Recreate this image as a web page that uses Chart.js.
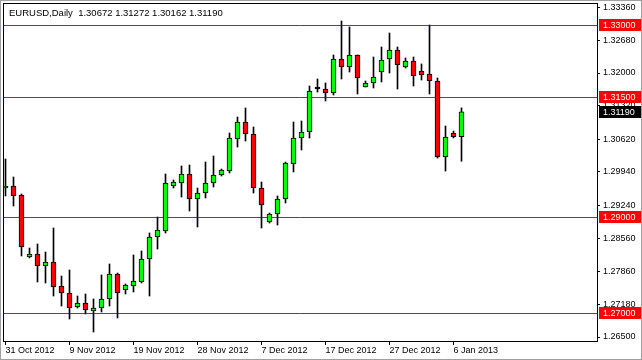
<!DOCTYPE html>
<html>
<head>
<meta charset="utf-8">
<script src="https://cdn.jsdelivr.net/npm/chart.js@4.4.1/dist/chart.umd.min.js"></script>
<style>
  html, body { margin: 0; padding: 0; background: #fff; }
  #wrap { width: 642px; height: 360px; }
</style>
</head>
<body>
<div id="wrap"><canvas id="myChart" width="642" height="360"></canvas></div>
<script>
// EURUSD daily candles, 31 Oct 2012 - 7 Jan 2013
var dates = ["31 Oct 2012","1 Nov 2012","2 Nov 2012","4 Nov 2012","5 Nov 2012","6 Nov 2012","7 Nov 2012","8 Nov 2012","9 Nov 2012",
  "11 Nov 2012","12 Nov 2012","13 Nov 2012","14 Nov 2012","15 Nov 2012","16 Nov 2012","18 Nov 2012","19 Nov 2012","20 Nov 2012",
  "21 Nov 2012","22 Nov 2012","23 Nov 2012","25 Nov 2012","26 Nov 2012","27 Nov 2012","28 Nov 2012","29 Nov 2012","30 Nov 2012",
  "2 Dec 2012","3 Dec 2012","4 Dec 2012","5 Dec 2012","6 Dec 2012","7 Dec 2012","9 Dec 2012","10 Dec 2012","11 Dec 2012",
  "12 Dec 2012","13 Dec 2012","14 Dec 2012","16 Dec 2012","17 Dec 2012","18 Dec 2012","19 Dec 2012","20 Dec 2012","21 Dec 2012",
  "23 Dec 2012","24 Dec 2012","26 Dec 2012","27 Dec 2012","28 Dec 2012","30 Dec 2012","31 Dec 2012","1 Jan 2013","2 Jan 2013",
  "3 Jan 2013","4 Jan 2013","6 Jan 2013","7 Jan 2013"];

var opens  = [1.29604,1.29646,1.29458,1.28167,1.28229,1.27979,1.28063,1.27563,1.27417,1.27125,1.27208,1.27042,1.27104,1.27292,1.27813,
  1.27479,1.27563,1.27646,1.28125,1.28583,1.28708,1.29646,1.29708,1.29896,1.29375,1.29500,1.29708,1.29875,1.29958,1.30625,1.30979,
  1.30729,1.29604,1.28896,1.29063,1.29375,1.30104,1.30646,1.30771,1.31667,1.31667,1.31583,1.32292,1.32125,1.32375,1.31708,1.31792,
  1.32021,1.32292,1.32479,1.32125,1.32250,1.32042,1.31979,1.31833,1.30250,1.30750,1.30672];
var highs  = [1.30208,1.29833,1.29479,1.28354,1.28438,1.28271,1.28771,1.27771,1.27896,1.27354,1.27396,1.27292,1.27792,1.28021,1.27833,
  1.27604,1.28208,1.28292,1.28667,1.29000,1.29896,1.29771,1.30063,1.30083,1.29604,1.30146,1.30271,1.30000,1.30750,1.31083,1.31271,
  1.30875,1.29729,1.29083,1.29438,1.30146,1.30979,1.31000,1.31729,1.31875,1.31792,1.32375,1.33083,1.32958,1.32375,1.31833,1.32333,
  1.32542,1.32833,1.32542,1.32313,1.32333,1.32188,1.33000,1.31896,1.30896,1.30792,1.31272];
var lows   = [1.29438,1.29229,1.28188,1.28146,1.27646,1.27625,1.27354,1.27146,1.26875,1.27104,1.26979,1.26604,1.27021,1.27146,1.26896,
  1.27396,1.27438,1.27625,1.27354,1.28333,1.28667,1.29604,1.29417,1.29125,1.28792,1.29396,1.29625,1.29854,1.29917,1.30458,1.30583,
  1.29500,1.28771,1.28875,1.28833,1.29292,1.29938,1.30396,1.30646,1.31604,1.31417,1.31542,1.31875,1.32021,1.31563,1.31708,1.31688,
  1.31813,1.32000,1.31667,1.32104,1.31729,1.31854,1.31563,1.30229,1.29958,1.30646,1.30162];
var closes = [1.29646,1.29438,1.28375,1.28229,1.27979,1.28063,1.27542,1.27417,1.27104,1.27208,1.27063,1.27104,1.27292,1.27813,1.27417,
  1.27583,1.27667,1.28125,1.28583,1.28729,1.29708,1.29729,1.29896,1.29375,1.29500,1.29708,1.29875,1.29979,1.30646,1.30979,1.30729,
  1.29604,1.29250,1.29063,1.29375,1.30125,1.30646,1.30771,1.31625,1.31667,1.31583,1.32292,1.32125,1.32375,1.31896,1.31792,1.31917,
  1.32271,1.32479,1.32167,1.32250,1.31938,1.31958,1.31833,1.30250,1.30667,1.30672,1.31190];

var priceTicks = [1.33360,1.32680,1.32000,1.31320,1.30620,1.29940,1.29240,1.28560,1.27860,1.27180,1.26500];
var dateTickIdx = [0,8,16,24,32,40,48,56];
var levels = [1.33000,1.31500,1.29000,1.27000];
var title = "EURUSD,Daily  1.30672 1.31272 1.30162 1.31190";

var FONT = "'Liberation Sans', Arial, sans-serif";

var bodies = [], wicks = [], bodyColors = [];
for (var i = 0; i < dates.length; i++) {
  bodies.push({x: i, y: [opens[i], closes[i]]});
  wicks.push({x: i, y: [lows[i], highs[i]]});
  if (closes[i] > opens[i]) bodyColors.push('#00ff00');
  else if (closes[i] < opens[i]) bodyColors.push('#ff0000');
  else bodyColors.push('#000000');
}

var mt4Plugin = {
  id: 'mt4',
  beforeDraw: function(chart) {
    var ctx = chart.ctx;
    ctx.save();
    ctx.fillStyle = '#ffffff';
    ctx.fillRect(0, 0, chart.width, chart.height);
    ctx.strokeStyle = '#a0a0a0';
    ctx.lineWidth = 1;
    ctx.strokeRect(0.5, 0.5, chart.width - 1, chart.height - 1);
    ctx.restore();
  },
  beforeDatasetsDraw: function(chart) {
    var ctx = chart.ctx, a = chart.chartArea, y = chart.scales.y;
    ctx.save();
    ctx.strokeStyle = '#ff0000';
    ctx.lineWidth = 1;
    levels.forEach(function(v) {
      var py = Math.round(y.getPixelForValue(v)) + 0.5;
      ctx.beginPath();
      ctx.moveTo(a.left, py);
      ctx.lineTo(a.right, py);
      ctx.stroke();
    });
    ctx.restore();
  },
  afterDraw: function(chart) {
    var ctx = chart.ctx, a = chart.chartArea, y = chart.scales.y;
    ctx.save();
    // frame
    ctx.strokeStyle = '#000000';
    ctx.lineWidth = 1;
    ctx.strokeRect(a.left - 0.5, a.top - 0.5, a.right - a.left + 1, a.bottom - a.top + 1);
    // title
    ctx.fillStyle = '#000000';
    ctx.font = '9.5px ' + FONT;
    ctx.textBaseline = 'middle';
    ctx.textAlign = 'left';
    ctx.fillText(title, 9, 13);
    // price labels
    var boxes = levels.map(function(v) { return {v: v, bg: '#ff0000'}; });
    boxes.push({v: closes[closes.length - 1], bg: '#000000'});
    ctx.font = '9px ' + FONT;
    boxes.forEach(function(b) {
      var py = Math.round(y.getPixelForValue(b.v));
      ctx.fillStyle = b.bg;
      ctx.fillRect(a.right + 2, py - 6, chart.width - a.right - 3, 12);
      ctx.fillStyle = '#ffffff';
      ctx.fillText(b.v.toFixed(5), a.right + 6, py + 0.5);
    });
    ctx.restore();
  }
};

var chart = new Chart(document.getElementById('myChart').getContext('2d'), {
  type: 'bar',
  data: {
    datasets: [
      {
        label: 'body',
        data: bodies,
        backgroundColor: bodyColors,
        borderColor: '#000000',
        borderWidth: 1,
        borderSkipped: false,
        barThickness: 5,
        minBarLength: 2,
        grouped: false,
        order: 0
      },
      {
        label: 'wick',
        data: wicks,
        backgroundColor: '#000000',
        borderWidth: 0,
        barThickness: 1,
        grouped: false,
        order: 1
      }
    ]
  },
  plugins: [mt4Plugin],
  options: {
    responsive: false,
    animation: false,
    events: [],
    layout: { padding: { left: 4, top: 4, right: 0, bottom: 0 } },
    plugins: { legend: { display: false }, tooltip: { enabled: false }, title: { display: false } },
    scales: {
      x: {
        type: 'linear',
        min: -0.1875,
        max: 73.9375,
        offset: false,
        grid: { display: true, drawOnChartArea: false, offset: false, tickLength: 4, color: '#000000' },
        border: { display: false },
        afterBuildTicks: function(s) { s.ticks = dateTickIdx.map(function(v) { return {value: v}; }); },
        afterFit: function(s) { s.height = 19; s.paddingLeft = 0; s.paddingRight = 0; },
        ticks: {
          autoSkip: false,
          maxRotation: 0,
          align: 'start',
          padding: 0,
          color: '#000000',
          font: { family: FONT, size: 9 },
          callback: function(v) { return dates[v]; }
        }
      },
      y: {
        position: 'right',
        min: 1.2641667,
        max: 1.334375,
        grid: { display: true, drawOnChartArea: false, tickLength: 3, color: '#000000' },
        border: { display: false },
        afterBuildTicks: function(s) { s.ticks = priceTicks.map(function(v) { return {value: v}; }); },
        afterFit: function(s) { s.width = 45; s.paddingTop = 0; s.paddingBottom = 0; },
        ticks: {
          padding: 3,
          color: '#000000',
          font: { family: FONT, size: 9 },
          callback: function(v) { return v.toFixed(5); }
        }
      }
    }
  }
});
</script>
</body>
</html>
